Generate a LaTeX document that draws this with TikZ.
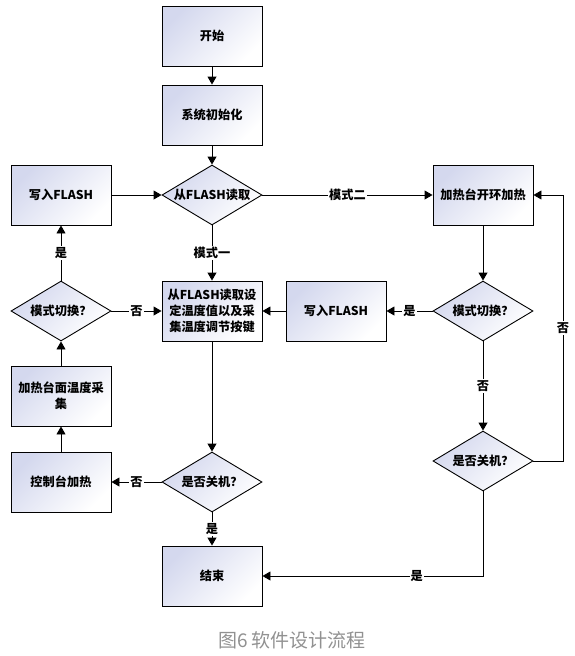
\documentclass[tikz,border=0pt]{standalone}
\usepackage{fontspec}
\newfontfamily\cjk{Noto Sans CJK SC}
\usetikzlibrary{arrows.meta,shapes.geometric}
\definecolor{boxtint}{RGB}{212,216,238}
\definecolor{capgray}{RGB}{145,145,145}

\begin{document}
\begin{tikzpicture}[x=1pt, y=-1pt, >={Triangle[length=8pt,width=9pt]}, line width=0.9pt,
  every node/.style={font=\cjk\bfseries\fontsize{12.2}{16}\selectfont},
  proc/.style={draw, rectangle, minimum width=100pt, minimum height=60pt, align=center,
    top color=boxtint, bottom color=white, shading angle=45},
  decide/.style={draw, diamond, shape aspect=1.667, inner sep=0pt, minimum width=100pt,
    minimum height=60pt, align=center, top color=boxtint, bottom color=white, shading angle=45},
  lbl/.style={fill=white, inner sep=1pt}]
  \useasboundingbox (0,0) rectangle (575,656);

  % middle column
  \node[proc] (start) at (212,36) {开始};
  \node[proc] (init) at (212,115) {系统初始化};
  \node[decide] (read) at (212,195) {从FLASH读取};
  \node[proc] (setup) at (212,311) {从FLASH读取设\\定温度值以及采\\集温度调节按键};
  \node[decide] (offL) at (212,482) {是否关机？};
  \node[proc] (stop) at (212,576) {结束};

  % left column
  \node[proc] (writeL) at (61,195) {写入FLASH};
  \node[decide] (modeL) at (61,311) {模式切换？};
  \node[proc] (sample) at (61,396) {加热台面温度采\\集};
  \node[proc] (ctrl) at (61,482) {控制台加热};

  % right side
  \node[proc] (heat) at (483,195) {加热台开环加热};
  \node[proc] (writeR) at (336,311) {写入FLASH};
  \node[decide] (modeR) at (483,311) {模式切换？};
  \node[decide] (offR) at (483,461) {是否关机？};
  \coordinate (fb) at (563,461);

  \draw[->] (start) -- (init);
  \draw[->] (init) -- (read);
  \draw[->] (writeL) -- (read);
  \draw[->] (read) -- node[lbl] {模式二} (heat);
  \draw[->] (read) -- node[lbl] {模式一} (setup);
  \draw[->] (modeL) -- node[lbl] {是} (writeL);
  \draw[->] (modeL) -- node[lbl] {否} (setup);
  \draw[->] (heat) -- (modeR);
  \draw[->] (modeR) -- node[lbl] {是} (writeR);
  \draw[->] (writeR) -- (setup);
  \draw[->] (modeR) -- node[lbl] {否} (offR);
  \draw[->] (offR) -- (fb) -- node[lbl] {否} (fb |- heat.east) -- (heat);
  \draw[->] (offR.south) |- node[lbl, pos=0.65] {是} (stop.east);
  \draw[->] (setup) -- (offL);
  \draw[->] (offL) -- node[lbl] {否} (ctrl);
  \draw[->] (offL) -- node[lbl] {是} (stop);
  \draw[->] (ctrl) -- (sample);
  \draw[->] (sample) -- (modeL);

  \node[font=\cjk\fontsize{19}{22}\selectfont, text=capgray] (cap) at (292,640) {图6 软件设计流程};
\end{tikzpicture}
\end{document}
